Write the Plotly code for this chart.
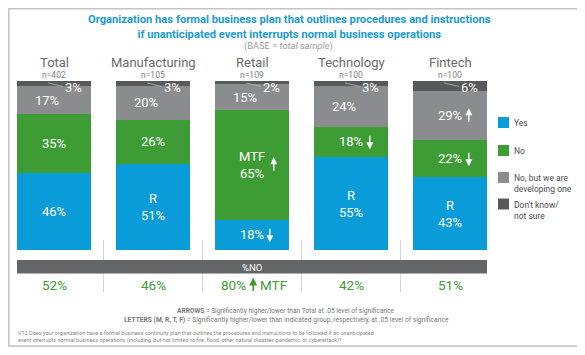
import plotly.graph_objects as go

# ---------------- data ----------------
categories = ["Total", "Manufacturing", "Retail", "Technology", "Fintech"]
sample_sizes = [402, 105, 109, 100, 100]
yes = [46, 51, 18, 55, 43]
no = [35, 26, 65, 18, 22]
developing = [17, 20, 15, 24, 29]
dont_know = [3, 3, 2, 3, 6]
pct_no = [52, 46, 80, 42, 51]

series_names = ["Yes", "No", "No, but we are<br>developing one", "Don't know/<br>not sure"]
series_colors = ["#0a9bd9", "#3e9c35", "#8b8c8e", "#58595b"]

yes_letters = ["", "R", "", "R", "R"]
no_letters = ["", "", "MTF", "", ""]
yes_arrows = ["", "", "down", "", ""]
no_arrows = ["", "", "up", "down", "down"]
dev_arrows = ["", "", "", "", "up"]
pct_no_arrows = ["", "", "up", "", ""]
pct_no_letters = ["", "", "MTF", "", ""]

# ---------------- layout helpers ----------------
# The page body has an 8px margin, so the figure is drawn 8px in from the window corner.
OFF = 8
W, H = 585 - OFF, 355 - OFF
FONT = "Roboto, Liberation Sans, Arial, sans-serif"
PX_PER_UNIT = 169 / 100.0
X0_PX, STEP_PX = 54.0, 99.0   # centre of first bar and spacing between bars (window pixels)


def px(x):
    return (x - OFF) / W


def py(y):
    return 1 - (y - OFF) / H


fig = go.Figure()
xs = list(range(len(categories)))
for vals, name, color in zip([yes, no, developing, dont_know], series_names, series_colors):
    fig.add_trace(go.Bar(x=xs, y=vals, name=name, marker_color=color,
                         marker_line_width=0, showlegend=False, hoverinfo="skip"))

fig.update_layout(
    barmode="stack", barnorm="percent", bargap=0.252,
    width=W, height=H, margin=dict(l=0, r=0, t=0, b=0),
    paper_bgcolor="white", plot_bgcolor="white",
    xaxis=dict(domain=[0, px(499.5)], range=[(OFF - X0_PX) / STEP_PX, 4.5], visible=False),
    yaxis=dict(domain=[py(250), py(81)], range=[0, 100], visible=False),
    font=dict(family=FONT),
)


def note(x, y, text, size, color, xref="paper", yref="paper", xanchor="center",
         yanchor="middle", align="center"):
    fig.add_annotation(x=x, y=y, xref=xref, yref=yref, text=text, showarrow=False,
                       xanchor=xanchor, yanchor=yanchor, align=align,
                       font=dict(color=color, size=size, family=FONT))


def add_arrow(xd, yc, direction, color, half_px, yref="y", width=1.4):
    if yref == "y":
        half = half_px / PX_PER_UNIT
        if direction == "up":
            head, tail = yc + half, yc - half
        else:
            head, tail = yc - half, yc + half
        fig.add_annotation(x=xd, y=head, ax=xd, ay=tail, xref="x", yref="y",
                           axref="x", ayref="y", text="", showarrow=True,
                           arrowhead=2, arrowsize=1, arrowwidth=width,
                           arrowcolor=color, standoff=0, startstandoff=0)
    else:
        half = half_px / H
        if direction == "up":
            head, ay = yc + half, 2 * half_px
        else:
            head, ay = yc - half, -2 * half_px
        fig.add_annotation(x=xd, y=head, ax=0, ay=ay, xref="x", yref="paper",
                           axref="pixel", ayref="pixel", text="", showarrow=True,
                           arrowhead=2, arrowsize=1, arrowwidth=width,
                           arrowcolor=color, standoff=0, startstandoff=0)


green = "#3e9c35"
for i in xs:
    total = yes[i] + no[i] + developing[i] + dont_know[i]
    scale = 100.0 / total
    y_yes = yes[i] * scale / 2
    y_no = (yes[i] + no[i] / 2) * scale
    y_dev = (yes[i] + no[i] + developing[i] / 2) * scale

    # Yes
    t = f"{yes[i]}%"
    if yes_letters[i]:
        t = yes_letters[i] + "<br>" + t
    note(i, y_yes, t, 13, "white", xref="x", yref="y")
    if yes_arrows[i]:
        add_arrow(i + 0.18, y_yes, yes_arrows[i], "white", 7.5)

    # No
    t = f"{no[i]}%"
    if no_letters[i]:
        t = no_letters[i] + "<br>" + t
    note(i, y_no, t, 13, "white", xref="x", yref="y")
    if no_arrows[i]:
        off = 0.22 if no_letters[i] else 0.19
        add_arrow(i + off, y_no, no_arrows[i], "white", 7.5)

    # Developing
    off = 0 if dev_arrows[i] else -0.07
    note(i + off, y_dev, f"{developing[i]}%", 13, "white", xref="x", yref="y")
    if dev_arrows[i]:
        add_arrow(i + 0.19, y_dev, dev_arrows[i], "white", 7.5)

    # Don't know (label with leader line)
    fig.add_shape(type="line", xref="x", yref="y", x0=i - 0.06, y0=98.8, x1=i + 0.09, y1=96.8,
                  line=dict(color="#b8b8b8", width=0.8))
    note(i + 0.09, 96.2, f"{dont_know[i]}%", 13, "white", xref="x", yref="y", xanchor="left")

    # headers
    note(i, py(62), categories[i], 13, "#6a6b6d", xref="x")
    note(i, py(75), f"n={sample_sizes[i]}", 8.5, "#808183", xref="x")

    # %NO row
    if pct_no_arrows[i]:
        note(i - 0.045, py(285), f"{pct_no[i]}%", 13.5, green, xref="x", xanchor="right")
        add_arrow(i + 0.012, py(285), pct_no_arrows[i], green, 7.5, yref="paper", width=1.6)
        note(i + 0.06, py(285), pct_no_letters[i], 13.5, green, xref="x", xanchor="left")
    else:
        note(i, py(285), f"{pct_no[i]}%", 13.5, green, xref="x")

# separators between groups
for k in range(len(categories) - 1):
    fig.add_shape(type="line", xref="x", yref="paper", x0=k + 0.5, x1=k + 0.5,
                  y0=py(292), y1=py(240), line=dict(color="#d6d6d6", width=1), layer="below")

# %NO band
fig.add_shape(type="rect", xref="x", yref="paper", x0=-0.374, x1=len(categories) - 1 + 0.374,
              y0=py(273.5), y1=py(260), fillcolor="#646567", line=dict(width=0))
note((len(categories) - 1) / 2, py(267), "%NO", 9.5, "white", xref="x")

# legend (manual)
legend_y = [122.5, 150.5, 177.5, 204]
for name, color, yc in zip(series_names, series_colors, legend_y):
    fig.add_shape(type="rect", xref="paper", yref="paper", x0=px(498), x1=px(509),
                  y0=py(yc + 5.5), y1=py(yc - 5.5), fillcolor=color, line=dict(width=0))
    note(px(512), py(yc - 6.5), name, 8.5, "#4d4d4f", xanchor="left", yanchor="top", align="left")

# title
note(px(289), py(26.5),
     "<b>Organization has formal business plan that outlines procedures and instructions"
     "<br>if unanticipated event interrupts normal business operations</b>",
     11.2, "#1a9ad6")
note(px(288), py(46), "(BASE = <i>total sample</i>)", 9.3, "#9a9a9a")

# footnotes
note(px(286), py(311),
     "<b>ARROWS</b> = Significantly higher/lower than Total at .05 level of significance",
     6.6, "#777777")
note(px(286), py(320),
     "<b>LETTERS (M, R, T, F)</b> = Significantly higher/lower than indicated group, "
     "respectively, at .05 level of significance",
     6.7, "#777777")
note(px(16), py(327.5),
     "V12 Does your organization have a formal business continuity plan that outlines the "
     "procedures and instructions to be followed if an unanticipated<br>event interrupts normal "
     "business operations (including, but not limited to fire, flood, other natural disaster, "
     "pandemic, or cyberattack)?",
     5.5, "#888888", xanchor="left", yanchor="top", align="left")

# outer frame
fig.add_shape(type="rect", xref="paper", yref="paper", x0=px(8.8), x1=px(579), y0=py(346),
              y1=py(8.8), line=dict(color="#c4c4c4", width=1.5))

fig.write_html("out.html")
